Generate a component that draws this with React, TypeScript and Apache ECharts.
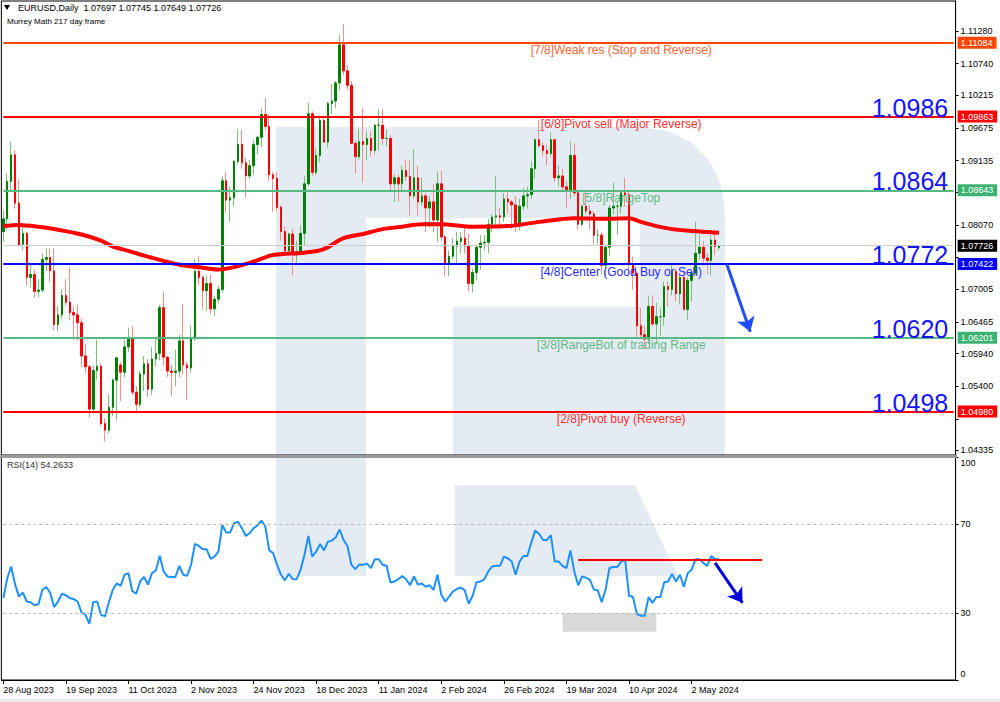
import React, { useEffect, useRef } from 'react';
import * as echarts from 'echarts';

// ---------- DATA ----------
const OPEN = [
  1.0796, 1.0817, 1.0879, 1.0923, 1.0843, 1.0775, 1.0793, 1.0720, 1.0725, 1.0697,
  1.0699, 1.0750, 1.0753, 1.0731, 1.0642, 1.0658, 1.0690, 1.0679, 1.0662, 1.0658,
  1.0645, 1.0590, 1.0572, 1.0502, 1.0566, 1.0573, 1.0478, 1.0467, 1.0505, 1.0550,
  1.0575, 1.0563, 1.0605, 1.0620, 1.0530, 1.0510, 1.0560, 1.0577, 1.0535, 1.0585,
  1.0594, 1.0670, 1.0588, 1.0565, 1.0563, 1.0565, 1.0615, 1.0575, 1.0570, 1.0620,
  1.0730, 1.0720, 1.0698, 1.0710, 1.0668, 1.0684, 1.0700, 1.0880, 1.0848, 1.0852,
  1.0912, 1.0940, 1.0910, 1.0888, 1.0905, 1.0940, 1.0952, 1.0990, 1.0970, 1.0890,
  1.0884, 1.0836, 1.0796, 1.0764, 1.0792, 1.0761, 1.0763, 1.0793, 1.0875, 1.0991,
  1.0894, 1.0922, 1.0980, 1.0944, 1.1008, 1.1012, 1.1042, 1.1105, 1.1062, 1.1038,
  1.0942, 1.0920, 1.0945, 1.0940, 1.0950, 1.0930, 1.0972, 1.0972, 1.0950, 1.0950,
  1.0875, 1.0885, 1.0875, 1.0897, 1.0887, 1.0855, 1.0885, 1.0845, 1.0855, 1.0835,
  1.0845, 1.0815, 1.0875, 1.0787, 1.0743, 1.0755, 1.0772, 1.0780, 1.0785, 1.0772,
  1.0710, 1.0728, 1.0770, 1.0777, 1.0778, 1.0808, 1.0820, 1.0822, 1.0820, 1.0850,
  1.0845, 1.0840, 1.0805, 1.0838, 1.0855, 1.0857, 1.0900, 1.0948, 1.0938, 1.0930,
  1.0925, 1.0948, 1.0885, 1.0888, 1.0870, 1.0865, 1.0922, 1.0860, 1.0808, 1.0838,
  1.0830, 1.0825, 1.0790, 1.0790, 1.0740, 1.0770, 1.0835, 1.0838, 1.0838, 1.0860,
  1.0857, 1.0742, 1.0727, 1.0640, 1.0625, 1.0618, 1.0672, 1.0643, 1.0655, 1.0655,
  1.0705, 1.0700, 1.0730, 1.0693, 1.0720, 1.0667, 1.0715, 1.0727, 1.0760, 1.0770,
  1.0752, 1.0748, 1.0782, 1.07697
];
const HIGH = [
  1.0831, 1.0892, 1.0945, 1.0931, 1.0882, 1.0809, 1.0796, 1.0744, 1.0733, 1.0717,
  1.0760, 1.0768, 1.0768, 1.0768, 1.0673, 1.0700, 1.0717, 1.0736, 1.0671, 1.0675,
  1.0651, 1.0610, 1.0575, 1.0574, 1.0617, 1.0578, 1.0487, 1.0526, 1.0553, 1.0588,
  1.0580, 1.0616, 1.0637, 1.0640, 1.0540, 1.0565, 1.0590, 1.0585, 1.0605, 1.0620,
  1.0675, 1.0695, 1.0590, 1.0575, 1.0600, 1.0625, 1.0675, 1.0580, 1.0640, 1.0750,
  1.0755, 1.0724, 1.0722, 1.0724, 1.0690, 1.0706, 1.0887, 1.0895, 1.0870, 1.0915,
  1.0966, 1.0965, 1.0918, 1.0915, 1.0948, 1.0955, 1.1000, 1.1017, 1.0990, 1.0895,
  1.0894, 1.0840, 1.0804, 1.0794, 1.0800, 1.0781, 1.0806, 1.0888, 1.1009, 1.0995,
  1.0933, 1.0988, 1.0984, 1.1011, 1.1040, 1.1045, 1.1122, 1.1139, 1.1071, 1.1045,
  1.0946, 1.0966, 1.1000, 1.0962, 1.0963, 1.0975, 1.0998, 1.0998, 1.0965, 1.0955,
  1.0890, 1.0890, 1.0905, 1.0915, 1.0915, 1.0932, 1.0905, 1.0885, 1.0860, 1.0855,
  1.0875, 1.0895, 1.0897, 1.0790, 1.0765, 1.0785, 1.0795, 1.0795, 1.0805, 1.0793,
  1.0735, 1.0772, 1.0790, 1.0790, 1.0817, 1.0825, 1.0888, 1.0835, 1.0860, 1.0865,
  1.0848, 1.0855, 1.0850, 1.0868, 1.0870, 1.0912, 1.0950, 1.0981, 1.0945, 1.0940,
  1.0960, 1.0950, 1.0905, 1.0900, 1.0880, 1.0945, 1.0942, 1.0865, 1.0840, 1.0865,
  1.0840, 1.0830, 1.0800, 1.0795, 1.0775, 1.0840, 1.0877, 1.0845, 1.0865, 1.0885,
  1.0865, 1.0755, 1.0730, 1.0670, 1.0640, 1.0690, 1.0690, 1.0678, 1.0670, 1.0713,
  1.0713, 1.0740, 1.0735, 1.0725, 1.0730, 1.0720, 1.0730, 1.0812, 1.0790, 1.0780,
  1.0760, 1.0790, 1.0792, 1.07745
];
const LOW = [
  1.0779, 1.0800, 1.0861, 1.0834, 1.0771, 1.0765, 1.0706, 1.0703, 1.0686, 1.0687,
  1.0695, 1.0731, 1.0712, 1.0632, 1.0631, 1.0651, 1.0673, 1.0649, 1.0617, 1.0615,
  1.0572, 1.0562, 1.0488, 1.0495, 1.0551, 1.0474, 1.0448, 1.0462, 1.0491, 1.0483,
  1.0515, 1.0555, 1.0597, 1.0525, 1.0495, 1.0505, 1.0532, 1.0522, 1.0525, 1.0573,
  1.0583, 1.0574, 1.0555, 1.0524, 1.0540, 1.0555, 1.0560, 1.0517, 1.0563, 1.0615,
  1.0708, 1.0667, 1.0665, 1.0660, 1.0656, 1.0677, 1.0695, 1.0828, 1.0813, 1.0838,
  1.0908, 1.0900, 1.0852, 1.0883, 1.0890, 1.0924, 1.0936, 1.0963, 1.0880, 1.0828,
  1.0830, 1.0781, 1.0762, 1.0760, 1.0723, 1.0744, 1.0758, 1.0772, 1.0872, 1.0888,
  1.0889, 1.0912, 1.0943, 1.0935, 1.0990, 1.1000, 1.1030, 1.1055, 1.1030, 1.0940,
  1.0892, 1.0915, 1.0877, 1.0914, 1.0920, 1.0924, 1.0930, 1.0940, 1.0937, 1.0863,
  1.0845, 1.0845, 1.0865, 1.0880, 1.0822, 1.0850, 1.0822, 1.0839, 1.0795, 1.0802,
  1.0795, 1.0779, 1.0780, 1.0723, 1.0722, 1.0750, 1.0740, 1.0760, 1.0760, 1.0697,
  1.0695, 1.0715, 1.0733, 1.0765, 1.0760, 1.0795, 1.0805, 1.0800, 1.0812, 1.0825,
  1.0800, 1.0795, 1.0798, 1.0832, 1.0834, 1.0850, 1.0884, 1.0935, 1.0920, 1.0905,
  1.0920, 1.0878, 1.0870, 1.0865, 1.0835, 1.0850, 1.0855, 1.0800, 1.0805, 1.0825,
  1.0800, 1.0775, 1.0775, 1.0725, 1.0723, 1.0755, 1.0825, 1.0790, 1.0825, 1.0837,
  1.0727, 1.0700, 1.0622, 1.0620, 1.0601, 1.0610, 1.0640, 1.0610, 1.0623, 1.0640,
  1.0672, 1.0690, 1.0680, 1.0675, 1.0665, 1.0650, 1.0680, 1.0725, 1.0750, 1.0745,
  1.0725, 1.0723, 1.0757, 1.07649
];
const CLOSE = [
  1.0817, 1.0879, 1.0923, 1.0843, 1.0773, 1.0793, 1.0720, 1.0725, 1.0697, 1.0699,
  1.0750, 1.0753, 1.0731, 1.0642, 1.0658, 1.0690, 1.0679, 1.0662, 1.0658, 1.0645,
  1.0590, 1.0572, 1.0502, 1.0566, 1.0573, 1.0478, 1.0467, 1.0505, 1.0550, 1.0587,
  1.0563, 1.0605, 1.0620, 1.0530, 1.0510, 1.0560, 1.0577, 1.0535, 1.0585, 1.0594,
  1.0670, 1.0588, 1.0565, 1.0563, 1.0565, 1.0615, 1.0575, 1.0570, 1.0620, 1.0730,
  1.0720, 1.0698, 1.0710, 1.0668, 1.0684, 1.0700, 1.0880, 1.0848, 1.0852, 1.0912,
  1.0940, 1.0910, 1.0888, 1.0905, 1.0940, 1.0952, 1.0990, 1.0970, 1.0890, 1.0884,
  1.0836, 1.0796, 1.0764, 1.0792, 1.0761, 1.0763, 1.0793, 1.0875, 1.0991, 1.0894,
  1.0922, 1.0980, 1.0944, 1.1008, 1.1012, 1.1042, 1.1105, 1.1062, 1.1038, 1.0942,
  1.0920, 1.0945, 1.0940, 1.0950, 1.0930, 1.0972, 1.0972, 1.0950, 1.0950, 1.0875,
  1.0885, 1.0875, 1.0897, 1.0887, 1.0855, 1.0885, 1.0845, 1.0855, 1.0835, 1.0845,
  1.0815, 1.0875, 1.0787, 1.0743, 1.0755, 1.0772, 1.0780, 1.0785, 1.0772, 1.0710,
  1.0728, 1.0770, 1.0777, 1.0778, 1.0808, 1.0820, 1.0822, 1.0820, 1.0850, 1.0845,
  1.0840, 1.0805, 1.0838, 1.0855, 1.0857, 1.0900, 1.0948, 1.0938, 1.0930, 1.0925,
  1.0948, 1.0885, 1.0888, 1.0870, 1.0865, 1.0922, 1.0860, 1.0808, 1.0838, 1.0830,
  1.0825, 1.0790, 1.0790, 1.0740, 1.0770, 1.0835, 1.0838, 1.0838, 1.0860, 1.0857,
  1.0742, 1.0727, 1.0640, 1.0625, 1.0618, 1.0672, 1.0643, 1.0655, 1.0655, 1.0705,
  1.0700, 1.0730, 1.0693, 1.0720, 1.0667, 1.0715, 1.0727, 1.0760, 1.0770, 1.0752,
  1.0748, 1.0782, 1.0771, 1.07726
];
// Murrey-frame moving average (read at sampled bars)
const MA_INDEX = [0, 4, 9, 14, 20, 25, 28, 32, 36, 40, 45, 50, 55, 59, 63, 69, 77, 82, 87, 92, 97, 102, 107, 112, 120, 129, 137, 146, 154, 160, 163, 167, 171, 176, 183];
const MA_VALUE = [1.0805, 1.0807, 1.0804, 1.0799, 1.0791, 1.0781, 1.0771, 1.0764, 1.0756, 1.0749, 1.0741, 1.0737, 1.0733, 1.0737, 1.0744, 1.0757, 1.0761, 1.0767, 1.0785, 1.0792, 1.0800, 1.0804, 1.0808, 1.0808, 1.0804, 1.0805, 1.0812, 1.0818, 1.0817, 1.0818, 1.0812, 1.0805, 1.0800, 1.0797, 1.0794];
const RSI = [
  36.7, 45.5, 50.9, 43.0, 37.4, 39.2, 35.2, 34.9, 33.5, 34.1,
  40.5, 41.7, 39.0, 32.7, 35.2, 38.7, 38.0, 36.7, 36.3, 35.2,
  30.3, 29.2, 25.2, 34.9, 35.2, 29.2, 28.5, 34.9, 40.5, 43.4,
  42.2, 47.2, 47.9, 39.8, 38.7, 44.3, 46.2, 42.8, 47.9, 49.1,
  55.7, 48.7, 46.4, 46.2, 46.2, 51.2, 47.2, 46.7, 51.7, 61.0,
  60.1, 58.6, 58.6, 54.3, 55.3, 57.6, 69.5, 66.1, 66.1, 70.3,
  71.0, 68.1, 64.6, 65.8, 68.1, 69.3, 71.5, 68.8, 58.1, 56.9,
  51.7, 47.2, 44.7, 47.6, 45.2, 45.2, 49.4, 56.1, 64.6, 55.3,
  57.6, 61.0, 58.1, 62.0, 62.5, 64.0, 67.5, 62.8, 60.1, 51.7,
  49.7, 51.7, 51.7, 52.2, 50.2, 54.2, 54.2, 51.7, 51.2, 43.7,
  44.2, 45.2, 46.6, 45.2, 42.5, 46.4, 42.8, 43.3, 41.8, 42.5,
  40.4, 47.2, 38.2, 35.2, 37.4, 39.7, 40.8, 41.5, 40.2, 34.2,
  37.8, 43.8, 44.2, 45.2, 48.7, 50.9, 51.2, 51.2, 55.3, 54.6,
  53.1, 47.2, 53.1, 55.6, 55.6, 61.6, 67.0, 65.5, 62.8, 62.8,
  65.0, 53.1, 53.1, 51.2, 50.2, 58.1, 48.7, 42.5, 46.4, 45.9,
  44.9, 40.6, 40.2, 34.9, 40.6, 50.2, 50.7, 50.7, 53.1, 53.9,
  37.8, 37.2, 29.7, 28.8, 28.8, 37.2, 34.6, 37.2, 37.2, 43.8,
  44.2, 47.6, 44.2, 47.2, 41.8, 47.9, 49.4, 54.2, 54.2, 52.4,
  51.2, 55.6, 54.2, 54.26
];
const LEVEL_VALUES = [1.11084, 1.09863, 1.08643, 1.07422, 1.06201, 1.04980];
const LEVEL_NAMES = [
  '[7/8]Weak res (Stop and Reverse)',
  '[6/8]Pivot sell (Major Reverse)',
  '[5/8]RangeTop',
  '[4/8]Center (Good Buy or Sell)',
  '[3/8]RangeBot of trading Range',
  '[2/8]Pivot buy (Reverse)',
];
const BIG_LABELS = ['', '1.0986', '1.0864', '1.0772', '1.0620', '1.0498'];
const CURRENT_PRICE = 1.07726;
const PRICE_TICKS = [1.1128, 1.1074, 1.10215, 1.09675, 1.09135, 1.08605, 1.0807, 1.0753, 1.07005, 1.06465, 1.0594, 1.054, 1.0486, 1.04335];
const PRICE_TICK_LABELS = [1.1128, 1.1074, 1.10215, 1.09675, 1.09135, 1.0807, 1.07005, 1.06465, 1.0594, 1.054, 1.04335];
const RSI_TICKS = [0, 30, 70, 100];
const RSI_LEVELS = [30, 70];
const RSI_RESIST = 53.9;
const HOLIDAYS = ['2023-12-25', '2024-01-01'];
const SLOT_COUNT = 244;
const DATE_LABEL_EVERY = 16;
const LAST_DATE_LABEL = 176;
const MONTHS = ['Jan', 'Feb', 'Mar', 'Apr', 'May', 'Jun', 'Jul', 'Aug', 'Sep', 'Oct', 'Nov', 'Dec'];

// ---------- STYLE ----------
const FONT = '"Liberation Sans", Arial, sans-serif';
const LINE_COLORS = ['#ff4500', '#ff0000', '#56b981', '#0000ff', '#56b981', '#ff0000'];
const TEXT_COLORS = ['#ff6633', '#ff3030', '#62b986', '#2b2bff', '#62b986', '#ff3030'];
const BOX_COLORS = ['#ff4500', '#ff0000', '#3cb371', '#0000ff', '#3cb371', '#ff0000'];
const WM = '#e5ebf3';

function buildDates(): string[] {
  const out: string[] = [];
  const d = new Date(Date.UTC(2023, 7, 28));
  while (out.length < SLOT_COUNT) {
    const wd = d.getUTCDay();
    const s = d.toISOString().slice(0, 10);
    if (wd !== 0 && wd !== 6 && !HOLIDAYS.includes(s)) out.push(s);
    d.setUTCDate(d.getUTCDate() + 1);
  }
  return out;
}

function fmtDate(v: string): string {
  const [y, m, d] = v.split('-');
  return `${+d} ${MONTHS[+m - 1]} ${y}`;
}

function buildOption() {
  const DATES = buildDates();
  const LAST = SLOT_COUNT - 1;
  const Y_MAX = 1.1128 + 30 / 6040;
  const Y_MIN = 1.1128 - 424 / 6040;
  const labelInterval = (i: number) => i % DATE_LABEL_EVERY === 0 && i <= LAST_DATE_LABEL;

  const wickData = OPEN.map((o, i) => [o, CLOSE[i], LOW[i], HIGH[i]]);
  const bodyData = OPEN.map((o, i) => [o, CLOSE[i], Math.min(o, CLOSE[i]), Math.max(o, CLOSE[i])]);
  const maData = MA_INDEX.map((idx, k) => [idx, MA_VALUE[k]]);

  const boxLabel = (text: string, bg: string) => ({
    show: true,
    position: 'end',
    distance: 4,
    formatter: text,
    backgroundColor: bg,
    color: '#fff',
    fontSize: 9,
    fontFamily: FONT,
    padding: [2, 4, 1, 3],
  });

  const hLine = (v: number, color: string, width: number, label: any) => [
    { coord: [0, v], lineStyle: { color, width, type: 'solid' }, label },
    { coord: [LAST, v] },
  ];

  const levelLines: any[] = [
    hLine(CURRENT_PRICE, '#cfcfcf', 1, boxLabel(CURRENT_PRICE.toFixed(5), '#000')),
    ...LEVEL_VALUES.map((v, k) => hLine(v, LINE_COLORS[k], 2, boxLabel(v.toFixed(5), BOX_COLORS[k]))),
    [
      { coord: [185, 1.0742], symbol: 'none', lineStyle: { color: '#1f4cff', width: 3, type: 'solid' }, label: { show: false } },
      { coord: [191, 1.063], symbol: 'arrow', symbolSize: 14 },
    ],
  ];

  const points: any[] = [];
  LEVEL_VALUES.forEach((v, k) => {
    points.push({
      coord: [158, v],
      symbol: 'circle',
      symbolSize: 1,
      itemStyle: { color: 'rgba(0,0,0,0)' },
      label: {
        show: true,
        position: 'bottom',
        distance: 1,
        formatter: LEVEL_NAMES[k],
        color: TEXT_COLORS[k],
        fontSize: 12,
        fontFamily: FONT,
      },
    });
    if (BIG_LABELS[k]) {
      points.push({
        coord: [242, v],
        symbol: 'circle',
        symbolSize: 1,
        itemStyle: { color: 'rgba(0,0,0,0)' },
        label: {
          show: true,
          position: [0, 0],
          align: 'right',
          verticalAlign: 'bottom',
          offset: [-1, 4],
          formatter: BIG_LABELS[k],
          color: '#1414ff',
          fontSize: 25,
          fontFamily: FONT,
        },
      });
    }
  });

  return {
    animation: false,
    backgroundColor: '#fff',
    textStyle: { fontFamily: FONT },
    grid: [
      { left: 1.35, right: 44.4, top: 1, height: 454, show: true, borderColor: '#000', borderWidth: 1, backgroundColor: 'transparent' },
      { left: 1.35, right: 44.4, top: 457, height: 223, show: true, borderColor: '#000', borderWidth: 1, backgroundColor: 'transparent' },
    ],
    xAxis: [
      { type: 'category', gridIndex: 0, data: DATES, boundaryGap: true, show: false },
      {
        type: 'category',
        gridIndex: 1,
        data: DATES,
        boundaryGap: true,
        axisLine: { show: true, lineStyle: { color: '#000', width: 1 } },
        axisTick: { show: true, alignWithLabel: true, interval: labelInterval, length: 4, lineStyle: { color: '#000' } },
        axisLabel: { interval: labelInterval, align: 'left', fontSize: 9, color: '#000', margin: 5, fontFamily: FONT, formatter: fmtDate, hideOverlap: false },
        splitLine: { show: false },
      },
    ],
    yAxis: [
      {
        type: 'value',
        gridIndex: 0,
        position: 'right',
        min: Y_MIN,
        max: Y_MAX,
        axisLine: { show: true, lineStyle: { color: '#000' } },
        axisTick: { show: true, length: 3, customValues: PRICE_TICKS, lineStyle: { color: '#000' } },
        axisLabel: { customValues: PRICE_TICK_LABELS, formatter: (v: number) => v.toFixed(5), fontSize: 9, color: '#000', margin: 5, fontFamily: FONT },
        splitLine: { show: false },
      },
      {
        type: 'value',
        gridIndex: 1,
        position: 'right',
        min: 0,
        max: 100,
        axisLine: { show: true, lineStyle: { color: '#000' } },
        axisTick: { show: true, length: 3, customValues: RSI_TICKS, lineStyle: { color: '#000' } },
        axisLabel: {
          customValues: [2.8, 30, 70, 97.4],
          formatter: (v: number) => (v > 90 ? '100' : v < 10 ? '0' : String(v)),
          fontSize: 9,
          color: '#000',
          margin: 5,
          fontFamily: FONT,
        },
        splitLine: { show: false },
      },
    ],
    series: [
      {
        name: 'wicks',
        type: 'candlestick',
        xAxisIndex: 0,
        yAxisIndex: 0,
        data: wickData,
        barWidth: 1,
        itemStyle: { color: '#7cc07c', color0: '#ff8a8a', borderColor: '#7cc07c', borderColor0: '#ff8a8a', borderWidth: 1 },
        z: 2,
      },
      {
        name: 'bodies',
        type: 'candlestick',
        xAxisIndex: 0,
        yAxisIndex: 0,
        data: bodyData,
        barWidth: 2,
        itemStyle: { color: '#008000', color0: '#ff0000', borderColor: '#008000', borderColor0: '#ff0000', borderWidth: 1 },
        z: 3,
        markLine: { silent: true, symbol: ['none', 'none'], animation: false, data: levelLines },
        markPoint: { silent: true, animation: false, data: points },
      },
      {
        name: 'MA',
        type: 'line',
        xAxisIndex: 0,
        yAxisIndex: 0,
        data: maData,
        symbol: 'none',
        smooth: 0.3,
        lineStyle: { color: '#ff0000', width: 4 },
        z: 4,
      },
      {
        name: 'RSI',
        type: 'line',
        xAxisIndex: 1,
        yAxisIndex: 1,
        data: RSI,
        symbol: 'none',
        lineStyle: { color: '#1e90ff', width: 2 },
        z: 4,
        markArea: {
          silent: true,
          itemStyle: { color: '#d9d9d9' },
          data: [[{ coord: [143, 30.1] }, { coord: [167, 21.6] }]],
        },
        markLine: {
          silent: true,
          symbol: ['none', 'none'],
          animation: false,
          data: [
            ...RSI_LEVELS.map((v) => [
              { coord: [0, v], lineStyle: { color: '#b8b8b8', width: 1, type: [3, 3] }, label: { show: false } },
              { coord: [LAST, v] },
            ]),
            [
              { coord: [147, RSI_RESIST], lineStyle: { color: '#ff0000', width: 2, type: 'solid' }, label: { show: false } },
              { coord: [194, RSI_RESIST] },
            ],
            [
              { coord: [182, 52.5], symbol: 'none', lineStyle: { color: '#0000d8', width: 3, type: 'solid' }, label: { show: false } },
              { coord: [189, 34.6], symbol: 'arrow', symbolSize: 14 },
            ],
          ],
        },
      },
    ],
    graphic: [
      { type: 'rect', z: -1, silent: true, shape: { x: 276, y: 127, width: 90, height: 328 }, style: { fill: WM } },
      {
        type: 'polygon', z: -1, silent: true,
        shape: { points: [[366, 127], [640, 127], [668, 131], [692, 143], [710, 162], [721, 185], [725, 212], [725, 455], [453, 455], [453, 307], [640, 307], [640, 218], [366, 218]] },
        style: { fill: WM },
      },
      { type: 'rect', z: -1, silent: true, shape: { x: 276, y: 458, width: 90, height: 118 }, style: { fill: WM } },
      { type: 'polygon', z: -1, silent: true, shape: { points: [[455, 485], [635, 485], [678, 576], [455, 576]] }, style: { fill: WM } },
      { type: 'rect', z: 50, silent: true, shape: { x: 0, y: 455, width: 957, height: 3 }, style: { fill: '#9a9a9a' } },
      { type: 'rect', z: 50, silent: true, shape: { x: 0, y: 699, width: 1000, height: 3 }, style: { fill: '#ececec' } },
      { type: 'polygon', z: 50, silent: true, shape: { points: [[4, 5], [10, 5], [7, 10]] }, style: { fill: '#000' } },
      { type: 'text', z: 50, silent: true, x: 18, y: 8, style: { text: 'EURUSD,Daily  1.07697 1.07745 1.07649 1.07726', fill: '#000', fontSize: 9, fontFamily: FONT, verticalAlign: 'middle' } },
      { type: 'text', z: 50, silent: true, x: 7, y: 21, style: { text: 'Murrey Math 217 day frame', fill: '#000', fontSize: 8, fontFamily: FONT, verticalAlign: 'middle' } },
      { type: 'text', z: 50, silent: true, x: 7, y: 465, style: { text: 'RSI(14) 54.2633', fill: '#333', fontSize: 9, fontFamily: FONT, verticalAlign: 'middle' } },
    ],
  };
}

export default function App() {
  const ref = useRef<HTMLDivElement>(null);
  useEffect(() => {
    if (!ref.current) return;
    const chart = echarts.init(ref.current, undefined, { renderer: 'svg' });
    chart.setOption(buildOption() as any);
    return () => chart.dispose();
  }, []);
  return <div ref={ref} style={{ position: 'fixed', left: 0, top: 0, width: 1000, height: 702, background: '#fff' }} />;
}
